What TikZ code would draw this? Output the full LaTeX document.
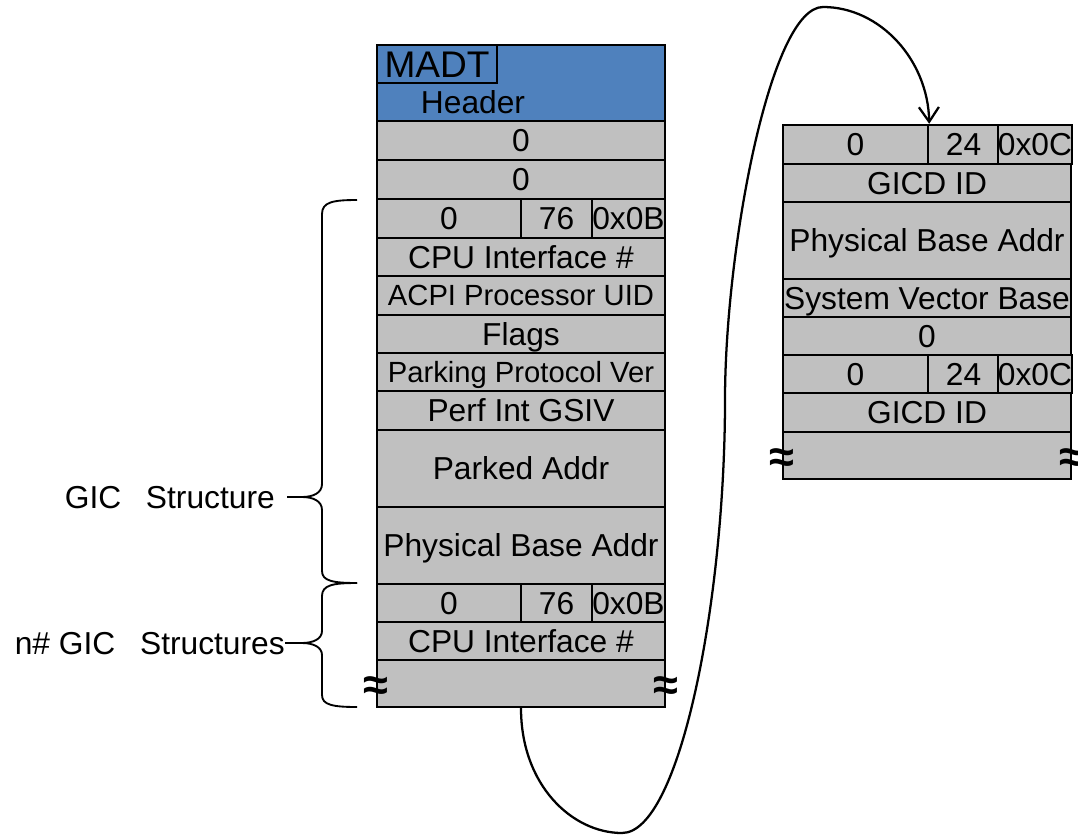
\documentclass[tikz,border=0pt]{standalone}
\usepackage{fontspec}
\setmainfont{Liberation Sans}
\usetikzlibrary{arrows.meta}

\definecolor{cellgray}{RGB}{192,192,192}
\definecolor{hdrblue}{RGB}{79,129,189}

\tikzset{
  field/.style={draw=black, fill=cellgray, line width=1.8pt, inner sep=0pt,
    text height=17pt, text depth=0pt, font=\fontsize{23.8}{28}\selectfont},
  smallfield/.style={font=\fontsize{21.9}{26}\selectfont, text height=15.7pt},
  plaintext/.style={inner sep=0pt, text height=17pt, text depth=0pt,
    font=\fontsize{23.8}{28}\selectfont},
  cutmark/.style={inner sep=0pt, font=\bfseries\fontsize{34}{34}\selectfont},
  bracepath/.style={line width=1.4pt},
  link/.style={line width=1.7pt,
    -{Straight Barb[length=11pt,width=15pt,line width=1.7pt]}},
}

% \mkfield[style]{name}{x1}{y1}{x2}{y2}{text}: a record field spanning the box
\newcommand\mkfield[7][]{%
  \node[field,#1,minimum width={(#5-#3)*0.75pt},minimum height={(#6-#4)*0.75pt}]
    (#2) at ({(#3+#5)/2},{(#4+#6)/2}) {#7};}

\begin{document}
\begin{tikzpicture}[x=0.75pt,y=-0.75pt]
\useasboundingbox (0,0) rectangle (1078,835);

% ---- MADT table ----
\mkfield[fill=hdrblue]{hdr}{377}{45}{665}{121}{}
\mkfield[fill=hdrblue,line width=1pt,font=\fontsize{27.8}{32}\selectfont,text height=20pt]{madt}{377}{45}{497}{83}{MADT}
\node[plaintext] (hdrtxt) at (473,102) {Header};
\mkfield{rza}{377}{121}{665}{160}{0}
\mkfield{rzb}{377}{160}{665}{199}{0}
\mkfield{gaa}{377}{199}{521}{238}{0}
\mkfield{gab}{521}{199}{592}{238}{76}
\mkfield{gac}{592}{199}{665}{238}{0x0B}
\mkfield{cpua}{377}{238}{665}{276}{CPU Interface \#}
\mkfield[smallfield]{uid}{377}{276}{665}{315}{ACPI Processor UID}
\mkfield{flags}{377}{315}{665}{353}{Flags}
\mkfield[smallfield]{ppv}{377}{353}{665}{391}{Parking Protocol Ver}
\mkfield{gsiv}{377}{391}{665}{430}{Perf Int GSIV}
\mkfield{parked}{377}{430}{665}{507}{Parked Addr}
\mkfield{pba}{377}{507}{665}{584}{Physical Base Addr}
\mkfield{gba}{377}{584}{521}{622}{0}
\mkfield{gbb}{521}{584}{592}{622}{76}
\mkfield{gbc}{592}{584}{665}{622}{0x0B}
\mkfield{cpub}{377}{622}{665}{660}{CPU Interface \#}
\mkfield{lend}{377}{660}{665}{707}{}
\node[cutmark] (lcutl) at ([yshift=-4pt]lend.west) {≈};
\node[cutmark] (lcutr) at ([yshift=-4pt]lend.east) {≈};

% ---- GICD table ----
\mkfield{rha}{783}{125}{928}{164}{0}
\mkfield{rhb}{928}{125}{999}{164}{24}
\mkfield{rhc}{999}{125}{1071}{164}{0x0C}
\mkfield{gicda}{783}{164}{1071}{202}{GICD ID}
\mkfield{rpba}{783}{202}{1071}{279}{Physical Base Addr}
\mkfield{svb}{783}{279}{1071}{317}{System Vector Base}
\mkfield{rzero}{783}{317}{1071}{355}{0}
\mkfield{rka}{783}{355}{928}{393}{0}
\mkfield{rkb}{928}{355}{999}{393}{24}
\mkfield{rkc}{999}{355}{1071}{393}{0x0C}
\mkfield{gicdb}{783}{393}{1071}{432}{GICD ID}
\mkfield{rend}{783}{432}{1071}{479}{}
\node[cutmark] (rcutl) at ([yshift=-4pt]rend.west) {≈};
\node[cutmark] (rcutr) at ([yshift=-4pt]rend.east) {≈};

% ---- braces and their labels ----
\coordinate (tipa) at (302,497);
\coordinate (tipb) at (302,643);
\draw[bracepath] (357,200) .. controls (333,200) and (322,202) .. (322,214)
  -- (322,484) .. controls (322,493) and (313,497) .. (tipa)
  .. controls (313,497) and (322,501) .. (322,510)
  -- (322,571) .. controls (322,581) and (333,583) .. (357,583);
\draw[bracepath] (357,583) .. controls (333,583) and (322,585) .. (322,596)
  -- (322,631) .. controls (322,639) and (313,643) .. (tipb)
  .. controls (313,643) and (322,647) .. (322,655)
  -- (322,695) .. controls (322,705) and (333,707) .. (357,707);

\node[plaintext, anchor=east] (gicone) at (275,497) {GIC\hspace{0.78em}Structure};
\node[plaintext, anchor=east] (gicmany) at (285,643) {n\# GIC\hspace{0.78em}Structures};
\draw[bracepath, shorten <=9pt] (gicone.east) -- (tipa);
\draw[bracepath] (gicmany.east) -- (tipb);

% ---- pointer from the MADT to the GICD structure ----
\coordinate (loopa) at (622,833);
\coordinate (loopb) at (725,400);
\coordinate (loopc) at (823,7);
\draw[link] (lend.south) .. controls (521,785) and (572,833) .. (loopa)
  .. controls (680,833) and (725,600) .. (loopb)
  .. controls (725,250) and (770,7) .. (loopc)
  .. controls (880,7) and (928,60) .. (rha.north east);
\end{tikzpicture}
\end{document}
